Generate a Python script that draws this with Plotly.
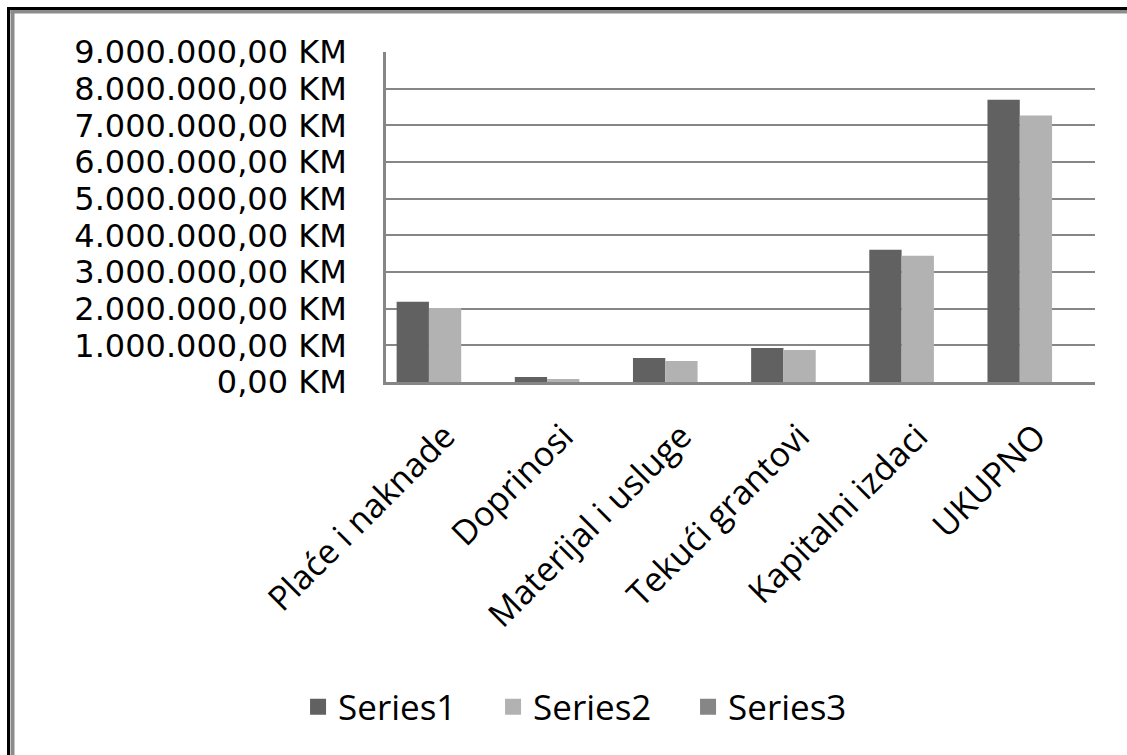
import plotly.graph_objects as go

categories = ["Plaće i naknade", "Doprinosi", "Materijal i usluge",
              "Tekući grantovi", "Kapitalni izdaci", "UKUPNO"]
series1 = [2190000, 137000, 656000, 930000, 3610000, 7700000]
series2 = [2020000, 80000, 574000, 874000, 3440000, 7270000]
series3 = [0, 0, 0, 0, 0, 0]
series_names = ["Series1", "Series2", "Series3"]
series_colors = ["#616161", "#b2b2b2", "#868686"]
tick_values = [0, 1000000, 2000000, 3000000, 4000000, 5000000,
               6000000, 7000000, 8000000, 9000000]
tick_labels = ["0,00 KM", "1.000.000,00 KM", "2.000.000,00 KM", "3.000.000,00 KM",
               "4.000.000,00 KM", "5.000.000,00 KM", "6.000.000,00 KM",
               "7.000.000,00 KM", "8.000.000,00 KM", "9.000.000,00 KM"]

W, H = 1127, 755
L, R, T, B = 386, 32, 52, 373
PW, PH = W - L - R, H - T - B

def px(x):
    return (x - L) / PW

def py(y):
    return (H - B - y) / PH

fig = go.Figure()
for name, vals, col in zip(series_names, [series1, series2, series3], series_colors):
    fig.add_trace(go.Bar(x=categories, y=vals, name=name, marker_color=col,
                         marker_line_width=0, legendgroup=name, showlegend=False))
# legend entries (square swatches)
for name, col in zip(series_names, series_colors):
    fig.add_trace(go.Scatter(x=[None], y=[None], mode="markers", name=name,
                             legendgroup=name, showlegend=True,
                             marker=dict(symbol="square", size=16, color=col)))

grid = "#868686"
shapes = [
    dict(type="line", xref="paper", yref="paper", x0=px(12.5), x1=px(12.5), y0=py(10), y1=py(800),
         line=dict(color="#8c8c8c", width=4)),
    dict(type="line", xref="paper", yref="paper", x0=px(10.5), x1=px(1200), y0=py(11.5), y1=py(11.5),
         line=dict(color="#8c8c8c", width=4)),
    dict(type="line", xref="paper", yref="paper", x0=px(8.5), x1=px(8.5), y0=py(7), y1=py(800),
         line=dict(color="black", width=3)),
    dict(type="line", xref="paper", yref="paper", x0=px(7), x1=px(1200), y0=py(8.5), y1=py(8.5),
         line=dict(color="black", width=3)),
]

fig.update_layout(
    width=W, height=H,
    margin=dict(l=L, r=R, t=T, b=B, autoexpand=False),
    paper_bgcolor="white", plot_bgcolor="white",
    barmode="group", bargap=0.18, bargroupgap=0,
    shapes=shapes,
    showlegend=True,
    legend=dict(orientation="h", xref="container", yref="container",
                x=0.524, xanchor="center", y=1 - 707 / H, yanchor="middle",
                font=dict(family="Open Sans", size=35, color="black"),
                entrywidth=150, traceorder="normal", itemclick=False,
                itemdoubleclick=False),
    xaxis=dict(showline=True, linecolor=grid, linewidth=2.5, tickangle=-45,
               tickfont=dict(family="Open Sans", size=34, color="black"),
               ticklabelstandoff=18,
               showgrid=False, ticks="", automargin=False),
    yaxis=dict(range=[0, 9000000], tickvals=tick_values, ticktext=tick_labels,
               showline=True, linecolor=grid, linewidth=2.5,
               showgrid=True, gridcolor=grid, gridwidth=2, zeroline=False,
               tickfont=dict(family="DejaVu Sans", size=32, color="black"),
               ticklabelstandoff=30, ticks="", automargin=False),
)

fig.write_html("out.html", config={"displayModeBar": False},
               post_script="document.body.style.margin='0';document.body.style.overflow='hidden';")
